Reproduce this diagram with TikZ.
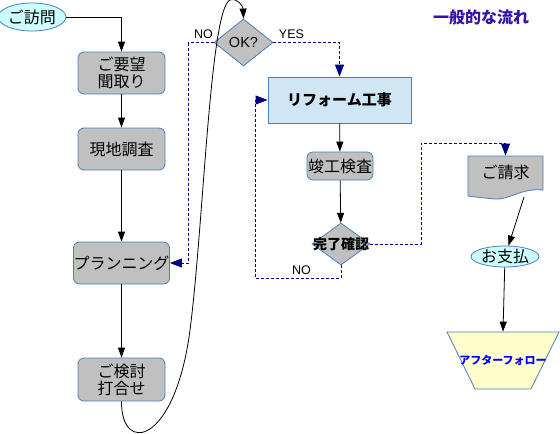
\documentclass[tikz,border=0pt]{standalone}
\usepackage{fontspec}
\setmainfont{Noto Sans CJK JP}
\newfontfamily\latinfont{Liberation Sans}
\usepackage{tikz}
\usetikzlibrary{shapes.geometric,arrows.meta}
\definecolor{edgeblue}{RGB}{74,126,187}
\definecolor{boxgray}{RGB}{192,192,192}
\definecolor{termcyan}{RGB}{204,255,255}
\definecolor{workblue}{RGB}{208,230,245}
\definecolor{followyellow}{RGB}{255,255,204}
\definecolor{titleblue}{RGB}{51,17,170}
\definecolor{linenavy}{RGB}{0,0,128}

\begin{document}
\begin{tikzpicture}[x=1pt,y=-1pt,line width=0.8pt,
  box node/.style={rectangle,rounded corners=6pt,draw=edgeblue,fill=boxgray,inner sep=0pt,align=center,font=\fontsize{16}{17}\selectfont},
  term node/.style={ellipse,draw=edgeblue,fill=termcyan,inner sep=0pt,font=\fontsize{16}{17}\selectfont},
  dec node/.style={diamond,draw=edgeblue,fill=boxgray,inner sep=0pt},
  tag node/.style={font=\latinfont\fontsize{12.5}{13}\selectfont},
  solid line/.style={draw=black,-{Triangle[length=10pt,width=7pt]}},
  dash line/.style={draw=linenavy,dash pattern=on 3pt off 2pt,-{Triangle[length=12pt,width=9pt]}}]
  \useasboundingbox (0,0) rectangle (560,434);
  % left column
  \node[term node,minimum width=62pt,minimum height=28pt] (visit) at (32,17) {ご訪問};
  \node[box node,minimum width=87pt,minimum height=42pt] (req) at (121.5,73) {ご要望\\聞取り};
  \node[box node,minimum width=87pt,minimum height=42pt] (survey) at (121.5,149) {現地調査};
  \node[box node,minimum width=87pt,minimum height=42pt] (plan) at (121.5,263) {プランニング};
  \node[box node,minimum width=87pt,minimum height=43pt] (meet) at (121.5,379.5) {ご検討\\打合せ};
  % middle column
  \node[dec node,minimum width=59pt,minimum height=47pt,
    label={[font=\latinfont\fontsize{14.5}{15}\selectfont]center:OK?}] (ok) at (243.5,42.5) {};
  \node[rectangle,draw=edgeblue,fill=workblue,minimum width=143pt,minimum height=46pt,
    font=\bfseries\fontsize{15}{16}\selectfont] (reform) at (339.5,100) {リフォーム工事};
  \node[box node,minimum width=66pt,minimum height=28pt] (insp) at (340,166) {竣工検査};
  \node[dec node,minimum width=58pt,minimum height=42pt,
    label={[font=\bfseries\fontsize{14}{15}\selectfont]center:完了確認}] (done) at (341,244) {};
  % right column
  \draw[draw=edgeblue,fill=boxgray] (468,156) -- (543,156) -- (543,190)
    .. controls (520,188) and (510,200) .. (495,199)
    .. controls (485,198) and (475,197) .. (468,196) -- cycle;
  \node[minimum width=75pt,minimum height=32pt,font=\fontsize{16}{17}\selectfont] (bill) at (505.5,172) {ご請求};
  \coordinate (billfoot) at (524,197);
  \node[term node,minimum width=64pt,minimum height=21pt] (pay) at (505,256.5) {お支払};
  \draw[draw=edgeblue,fill=followyellow] (447,332) -- (559,332) -- (531,389) -- (475,389) -- cycle;
  \node[minimum width=112pt,minimum height=57pt,text=blue,
    font=\bfseries\fontsize{11}{12}\selectfont] (after) at (503,360.5) {アフターフォロー};
  \node[text=titleblue,font=\bfseries\fontsize{16}{17}\selectfont] (title) at (481,17) {一般的な流れ};
  % labels
  \node[tag node] (okno) at (203.5,34) {NO};
  \node[tag node] (okyes) at (291.5,34) {YES};
  \node[tag node] (doneno) at (301.5,270) {NO};
  % connectors
  \draw[solid line] (visit.east) -| (req.north);
  \draw[solid line] (req) -- (survey);
  \draw[solid line] (survey) -- (plan);
  \draw[solid line] (plan) -- (meet);
  \draw[solid line] (meet.south) .. controls (121,455) and (175,445) .. (190,330)
    .. controls (203.5,226.5) and (210,8) .. (230,0)
    .. controls (237,-2.5) and (243,6) .. (ok.north);
  \draw[dash line] (ok.west) -- ++(-25,0) |- (plan.east);
  \draw[dash line] (ok.east) -| (reform.north);
  \draw[solid line] (reform) -- (insp);
  \draw[solid line] (insp) -- (done);
  \draw[dash line] (done.south) -- ++(0,13) -- ++(-86,0) |- (reform.west);
  \draw[dash line] (done.east) -| ++(51,-101) -| (bill.north);
  \draw[solid line] (billfoot) -- (pay);
  \draw[solid line] (pay) -- (after.north);
\end{tikzpicture}
\end{document}
